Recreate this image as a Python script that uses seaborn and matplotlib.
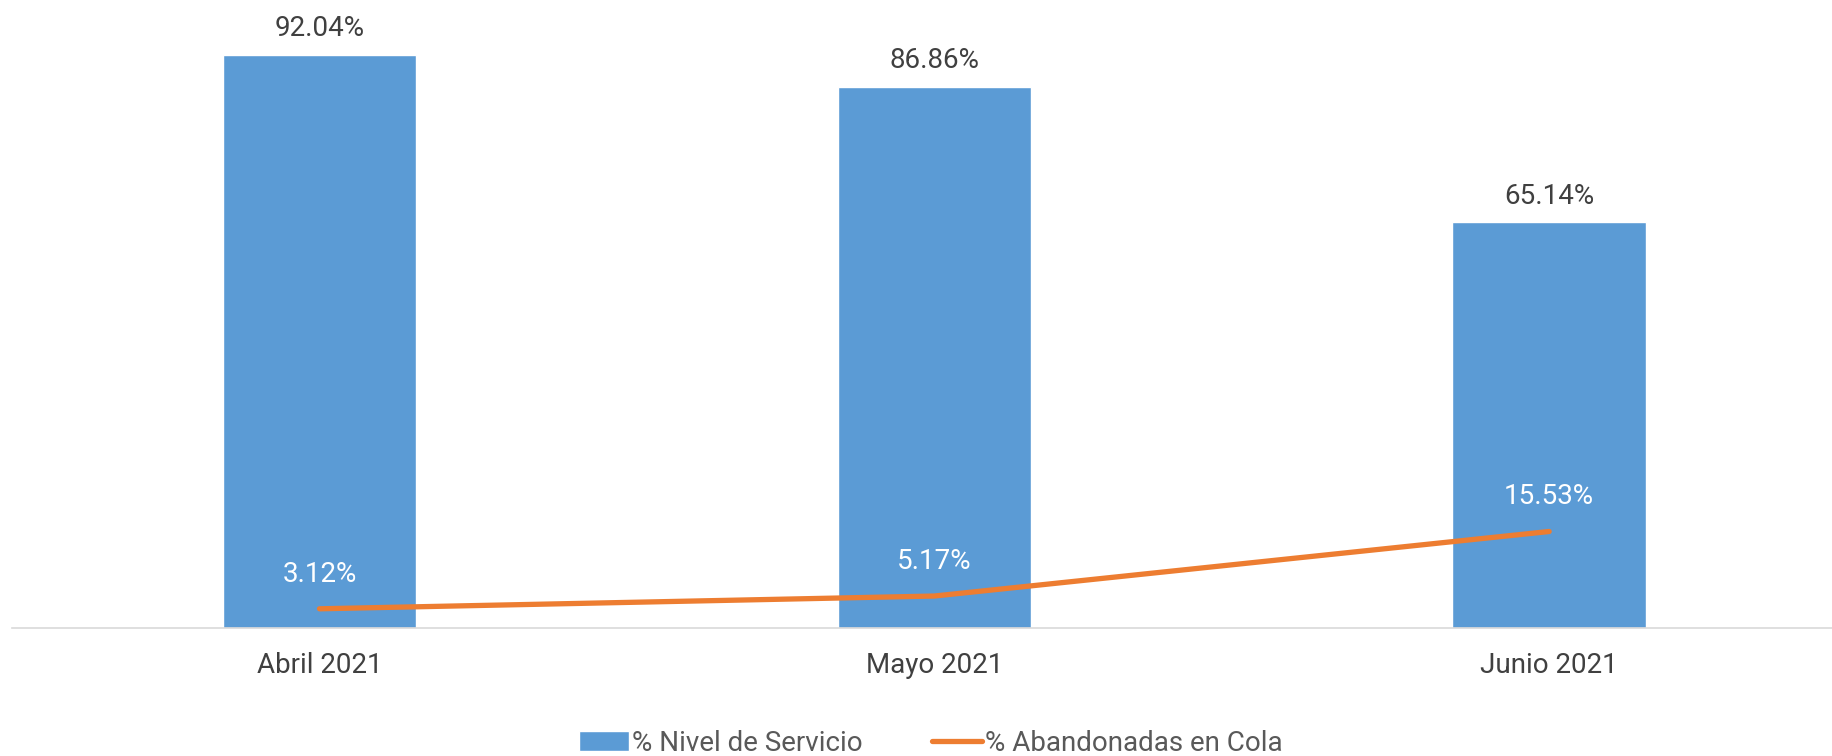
import numpy as np
import pandas as pd
import seaborn as sns
import matplotlib.pyplot as plt

sns.set_theme(style="white")
plt.rcParams["font.family"] = ["Roboto", "DejaVu Sans"]

# Datos del gráfico
meses = ["Abril 2021", "Mayo 2021", "Junio 2021"]
nivel_servicio = [92.04, 86.86, 65.14]
abandonadas = [3.12, 5.17, 15.53]

azul = "#5B9BD5"
naranja = "#ED7D31"
texto = "#404040"

df = pd.DataFrame({"mes": meses, "nivel": nivel_servicio, "aband": abandonadas})

fig = plt.figure(figsize=(18.32, 7.56), dpi=100)
ax = fig.add_axes([0.0066, 0.169, 0.9934, 0.824])

sns.barplot(data=df, x="mes", y="nivel", color=azul, saturation=1,
            width=0.315, ax=ax, label="% Nivel de Servicio")
pos = np.arange(len(meses))
sns.lineplot(x=pos, y=df["aband"], color=naranja, linewidth=3.8,
             solid_capstyle="round", ax=ax, label="% Abandonadas en Cola")

# Etiquetas de datos
for x, v in zip(pos, nivel_servicio):
    ax.annotate(f"{v:.2f}%", (x, v), xytext=(0, 19), textcoords="offset points",
                ha="center", va="center", fontsize=20, color=texto)
for x, v in zip(pos, abandonadas):
    ax.annotate(f"{v:.2f}%", (x, v), xytext=(0, 25), textcoords="offset points",
                ha="center", va="center", fontsize=20, color="white")

ax.set_ylim(0, 100)
ax.set_xlim(-0.5, 2.46)
ax.set_xlabel("")
ax.set_ylabel("")
ax.set_yticks([])
ax.tick_params(axis="x", length=0, labelsize=20, labelcolor=texto, pad=17)
for s in ["top", "right", "left"]:
    ax.spines[s].set_visible(False)
ax.spines["bottom"].set_color("#D9D9D9")
ax.spines["bottom"].set_linewidth(1.2)

ax.get_legend().remove()
h, l = ax.get_legend_handles_labels()
orden = [l.index("% Nivel de Servicio"), l.index("% Abandonadas en Cola")]
fig.legend([h[i] for i in orden], [l[i] for i in orden], loc="center",
           bbox_to_anchor=(0.508, 0.017), ncol=2, frameon=False,
           fontsize=20, labelcolor="#595959", handlelength=1.8, handletextpad=0.1,
           columnspacing=2.5)

plt.savefig("out.png", dpi=100)
